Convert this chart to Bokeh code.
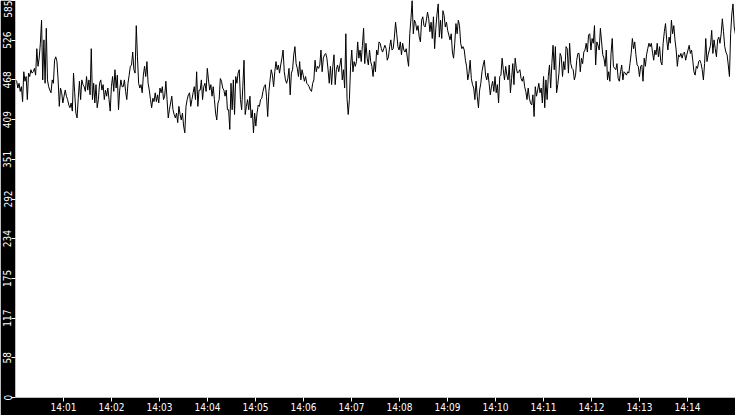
from bokeh.plotting import figure
from bokeh.models import Range1d, FixedTicker, DatetimeTickFormatter
from bokeh.embed import file_html
from bokeh.resources import INLINE

import pandas as pd


START = "2024-01-01 14:00:00"
END = "2024-01-01 14:15:00"
STEP_MS = 1480

# samples, one list per ~2 minutes
seg1 = [468, 466, 456, 463, 451, 458, 436, 480, 466, 473, 439, 478, 473, 483, 478, 480,
        485, 475, 514, 488, 500, 522, 556, 468, 527, 463, 544, 468, 458, 453, 449, 468,
        463, 497, 502, 495, 468, 429, 456, 449, 434, 444, 453, 444, 439, 431, 427, 434,
        422, 478, 449, 419, 412, 441, 466, 439, 468, 461, 458, 451, 473, 453, 468, 446,
        514, 439, 463, 434, 461, 427, 439, 463, 468, 453, 461, 439, 453, 444, 456, 439,
        422, 458, 473, 451, 483, 456, 475, 424, 453, 468, 458]
seg2 = [458, 468, 451, 439, 463, 475, 488, 490, 509, 483, 478, 548, 502, 463, 456,
        461, 449, 475, 488, 473, 495, 463, 453, 439, 427, 441, 436, 449, 436, 446,
        434, 456, 449, 458, 439, 444, 466, 439, 412, 424, 434, 444, 424, 417, 412,
        419, 405, 429, 417, 409, 419, 400, 390, 429, 439, 446, 449, 429, 439, 449,
        458, 439, 480, 429, 453, 453, 468, 439, 458, 463, 451, 485, 468, 453, 461,
        444, 458, 439, 419, 409, 434, 439, 470, 466, 456, 453, 444, 453, 424]
seg3 = [424, 395, 463, 424, 468, 417, 473, 463, 478, 483, 439, 424, 458, 497, 417, 429,
        439, 424, 444, 412, 424, 390, 419, 400, 419, 431, 429, 439, 441, 451, 458, 461,
        444, 414, 451, 468, 483, 475, 458, 480, 495, 483, 490, 478, 490, 500, 512, 480,
        468, 463, 470, 485, 446, 478, 483, 505, 517, 492, 485, 473, 495, 468, 483, 475,
        466, 473, 463, 461, 458, 453, 451, 463, 468, 497, 480, 488, 485, 490, 512, 480,
        500, 505, 507, 500, 483, 463, 488, 461, 488]
seg4 = [505, 461, 483, 490, 480, 490, 500, 468, 483, 456, 536, 441, 417, 439, 488,
        512, 480, 495, 488, 495, 524, 500, 512, 495, 519, 544, 492, 522, 500, 490,
        512, 495, 488, 473, 495, 480, 512, 505, 524, 522, 514, 509, 514, 519, 514,
        497, 502, 517, 527, 512, 514, 531, 553, 536, 517, 512, 524, 505, 522, 512,
        509, 514, 500, 488, 536, 558, 585, 536, 556, 551, 541, 548, 531, 524, 556,
        561, 548, 546, 556, 568, 558, 539, 553, 529, 561, 514, 544, 565, 580]
seg5 = [531, 556, 529, 570, 563, 546, 553, 541, 534, 527, 536, 509, 500, 522, 551,
        536, 556, 548, 522, 514, 517, 512, 497, 488, 468, 478, 497, 470, 461, 456,
        439, 466, 444, 427, 453, 463, 480, 490, 497, 475, 468, 478, 463, 446, 458,
        466, 451, 473, 449, 461, 434, 473, 475, 500, 483, 468, 488, 475, 468, 490,
        449, 470, 492, 461, 500, 485, 478, 480, 483, 470, 466, 473, 458, 451, 439,
        456, 441, 434, 431, 446, 414, 458, 444, 453, 463, 449, 456, 434, 473]
seg6 = [427, 468, 439, 473, 490, 456, 492, 519, 483, 517, 449, 461, 478, 507, 502,
        473, 495, 483, 517, 514, 478, 522, 492, 485, 483, 468, 475, 497, 507, 507,
        480, 500, 492, 509, 512, 522, 509, 534, 536, 512, 529, 522, 548, 490, 524,
        519, 512, 544, 524, 505, 500, 488, 512, 468, 480, 466, 507, 529, 488, 485,
        483, 492, 470, 466, 480, 490, 468, 480, 478, 475, 480, 478, 492, 507, 529,
        514, 524, 505, 490, 488, 473, 488, 490, 466, 500, 488, 505, 514, 522]
seg7 = [517, 522, 509, 497, 512, 505, 522, 502, 517, 495, 490, 522, 539, 551, 527,
        512, 531, 522, 556, 536, 548, 527, 512, 488, 505, 502, 507, 500, 507, 509,
        497, 505, 512, 519, 507, 512, 497, 480, 475, 488, 485, 495, 497, 492, 483,
        468, 492, 529, 495, 505, 512, 519, 541, 507, 527, 514, 502, 527, 531, 522,
        536, 558, 539, 517, 509, 505, 490, 473, 536, 565, 580, 546, 536, 570]

y_ticks = [0, 58.5, 117, 175.5, 234, 292.5, 351, 409.5, 468, 526.5, 585]
y_labels = ["0", "58", "117", "175", "234", "292", "351", "409", "468", "526", "585"]
x_ticks = ["14:01", "14:02", "14:03", "14:04", "14:05", "14:06", "14:07",
           "14:08", "14:09", "14:10", "14:11", "14:12", "14:13", "14:14"]

values = seg1 + seg2 + seg3 + seg4 + seg5 + seg6 + seg7
times = pd.Timestamp(START) + pd.to_timedelta([i * STEP_MS for i in range(len(values))], unit="ms")

FONT = "DejaVu Sans Condensed"

p = figure(width=735, height=415, x_axis_type="datetime", output_backend="svg",
           toolbar_location=None,
           x_range=Range1d(pd.Timestamp(START), pd.Timestamp(END)),
           y_range=Range1d(0, 585),
           min_border_left=0, min_border_bottom=0, min_border_top=0, min_border_right=0,
           background_fill_color="white", border_fill_color="black", outline_line_color=None)
p.grid.visible = False

p.line(times, values, color="black", line_width=1)

tick_ms = [pd.Timestamp("2024-01-01 " + t).value / 1e6 for t in x_ticks]
p.xaxis.ticker = FixedTicker(ticks=tick_ms)
p.xaxis.formatter = DatetimeTickFormatter(minutes="%H:%M", hours="%H:%M", minsec="%H:%M")
p.yaxis.ticker = FixedTicker(ticks=y_ticks)
p.yaxis.major_label_overrides = dict(zip(y_ticks, y_labels))
p.yaxis.major_label_orientation = "vertical"

for ax in (p.xaxis, p.yaxis):
    ax.axis_line_color = None
    ax.major_tick_line_color = "white"
    ax.major_tick_out = 4
    ax.major_tick_in = 0
    ax.minor_tick_line_color = None
    ax.major_label_text_color = "white"
    ax.major_label_text_font = FONT
    ax.major_label_text_font_size = "10px"
    ax.major_label_standoff = 0

html = file_html(p, INLINE)
html = html.replace("<body>", '<body style="margin:0;background:#000">', 1)
open("out.html", "w").write(html)
